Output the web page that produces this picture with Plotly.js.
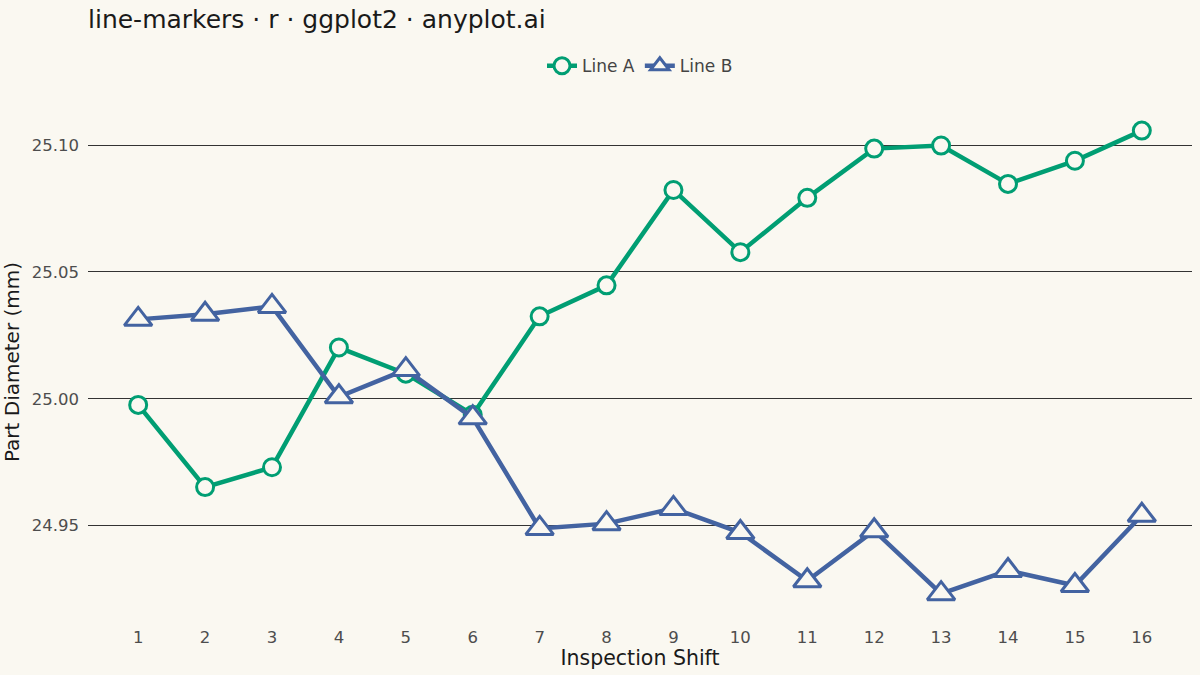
<!DOCTYPE html>
<html>
<head>
<meta charset="utf-8">
<script src="https://cdn.plot.ly/plotly-3.0.1.min.js"></script>
<style>
  html, body { margin: 0; padding: 0; background: #FAF8F1; }
  #chart { width: 1200px; height: 675px; }
</style>
</head>
<body>
<div id="chart"></div>
<script>
var shifts = [1, 2, 3, 4, 5, 6, 7, 8, 9, 10, 11, 12, 13, 14, 15, 16];
var lineA = [24.9976, 24.9652, 24.9730, 25.0202, 25.0099, 24.9937, 25.0325, 25.0447,
             25.0823, 25.0578, 25.0792, 25.0986, 25.0998, 25.0847, 25.0938, 25.1057];
var lineB = [25.0313, 25.0333, 25.0364, 25.0008, 25.0115, 24.9925, 24.9489, 24.9508,
             24.9568, 24.9473, 24.9283, 24.9480, 24.9232, 24.9323, 24.9264, 24.9541];
var yTicks = [24.95, 25.00, 25.05, 25.10];

var bg = '#FAF8F1';

var traceA = {
    x: shifts,
    y: lineA,
    name: 'Line A',
    type: 'scatter',
    mode: 'lines+markers',
    line: { color: '#009E73', width: 4.5 },
    marker: {
        symbol: 'circle',
        size: 17,
        color: bg,
        line: { color: '#009E73', width: 3 }
    },
    hoverinfo: 'none'
};

var traceB = {
    x: shifts,
    y: lineB,
    name: 'Line B',
    type: 'scatter',
    mode: 'lines+markers',
    line: { color: '#4363A1', width: 4.5 },
    marker: {
        symbol: 'triangle-up',
        size: 24,
        color: bg,
        line: { color: '#4363A1', width: 3 }
    },
    hoverinfo: 'none'
};

var layout = {
    width: 1200,
    height: 675,
    paper_bgcolor: bg,
    plot_bgcolor: bg,
    font: { family: 'DejaVu Sans', color: '#1a1a1a' },
    margin: { l: 88, r: 8, t: 107, b: 58, pad: 0 },
    title: {
        text: 'line-markers · r · ggplot2 · anyplot.ai',
        font: { size: 25, color: '#1a1a1a' },
        x: 0, xref: 'paper', xanchor: 'left',
        y: 0.972, yref: 'container', yanchor: 'middle'
    },
    showlegend: true,
    legend: {
        orientation: 'h',
        x: 0.5, xanchor: 'center',
        y: 1.08, yanchor: 'middle',
        font: { size: 17, color: '#444444' },
        bgcolor: 'rgba(0,0,0,0)',
        itemwidth: 30
    },
    xaxis: {
        range: [0.25, 16.75],
        tickmode: 'array',
        tickvals: shifts,
        ticktext: shifts.map(String),
        showgrid: false,
        zeroline: false,
        showline: false,
        ticks: '',
        ticklabelstandoff: 8,
        tickfont: { size: 16.5, color: '#4D4D4D' },
        title: { text: 'Inspection Shift', font: { size: 20.5, color: '#1a1a1a' }, standoff: 4 }
    },
    yaxis: {
        range: [24.914, 25.115],
        tickmode: 'array',
        tickvals: yTicks,
        ticktext: yTicks.map(function (v) { return v.toFixed(2); }),
        showgrid: true,
        gridcolor: '#333333',
        gridwidth: 1,
        zeroline: false,
        showline: false,
        ticks: '',
        ticklabelstandoff: 8,
        tickfont: { size: 16.5, color: '#4D4D4D' },
        title: { text: 'Part Diameter (mm)', font: { size: 20, color: '#1a1a1a' }, standoff: 8 }
    }
};

Plotly.newPlot('chart', [traceA, traceB], layout, { displayModeBar: false, staticPlot: true });
</script>
</body>
</html>
